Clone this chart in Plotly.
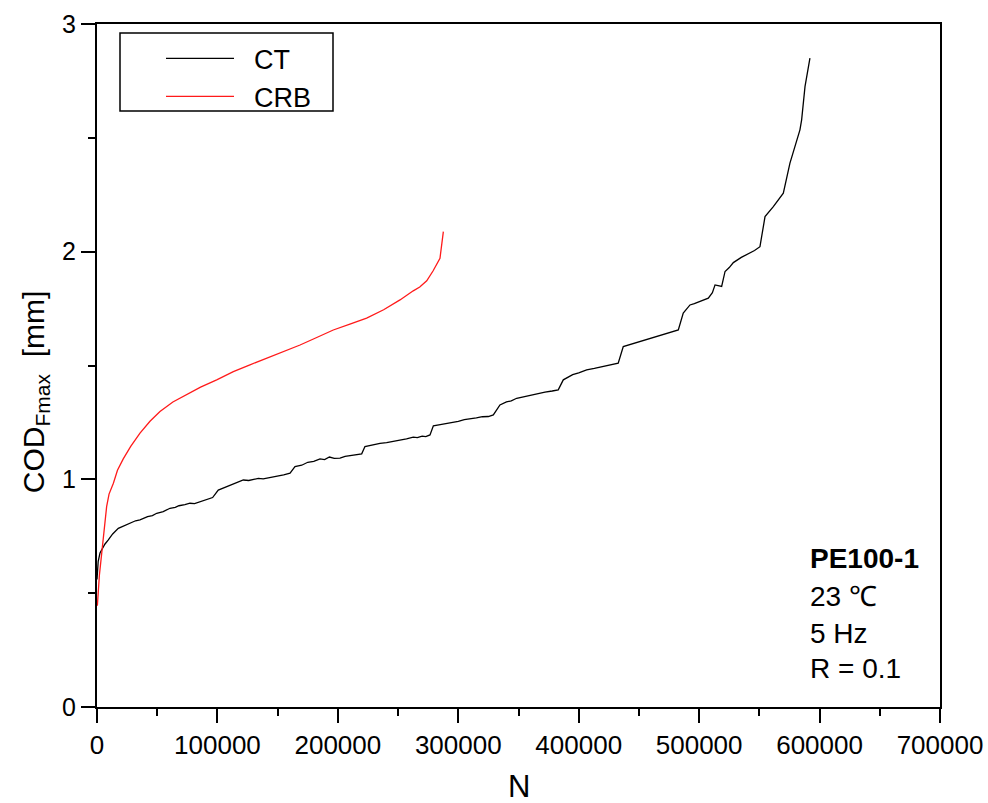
import plotly.graph_objects as go

# CT specimen: cycles N and COD at Fmax [mm]
ct_n = [0, 1000, 2500, 3900, 6500, 9400, 13000, 17700, 21800, 25000, 28000, 32000, 35700,
        42000, 46000, 49600, 55000, 58000, 60600, 65000, 68000, 73000, 77200, 81000,
        85000, 88000, 91000, 96000, 100700, 105000, 110000, 115000, 121500, 126000,
        130000, 134000, 138000, 144000, 150000, 155000, 160300, 164400, 170000,
        175000, 180000, 185200, 189000, 193000, 197000, 201800, 206000, 210000,
        215000, 219800, 222500, 226000, 230000, 235000, 240500, 246000, 252000,
        257000, 262600, 266000, 270000, 273000, 276500, 279300, 285000, 290000,
        295000, 300000, 305000, 310000, 315000, 320000, 325000, 329100, 334600,
        340000, 344000, 348500, 354000, 360000, 366000, 372000, 378000, 383000,
        387200, 391000, 395000, 400000, 406600, 413000, 420000, 426000, 432800,
        437000, 442000, 448000, 453000, 459200, 465000, 470000, 476000, 482700,
        486800, 492400, 496000, 500000, 504000, 507600, 511000, 513200, 518700,
        521500, 525000, 528400, 535000, 542200, 546000, 550500, 552500, 554700,
        561600, 569900, 575400, 580000, 583700, 585100, 587900, 592000]
ct_cod = [0.56, 0.64, 0.677, 0.69, 0.715, 0.734, 0.76, 0.785, 0.795, 0.80, 0.808, 0.818, 0.822,
          0.836, 0.841, 0.851, 0.858, 0.866, 0.873, 0.877, 0.884, 0.889, 0.895, 0.893,
          0.90, 0.905, 0.909, 0.92, 0.953, 0.962, 0.975, 0.982, 0.997, 0.995,
          1.0, 1.004, 1.002, 1.008, 1.012, 1.02, 1.027, 1.056, 1.062,
          1.075, 1.079, 1.09, 1.087, 1.098, 1.092, 1.093, 1.101, 1.105,
          1.108, 1.112, 1.144, 1.148, 1.152, 1.158, 1.161, 1.166, 1.172,
          1.178, 1.185, 1.183, 1.19, 1.188, 1.195, 1.235, 1.24, 1.245,
          1.247, 1.255, 1.262, 1.265, 1.27, 1.275, 1.276, 1.283, 1.327,
          1.34, 1.345, 1.356, 1.363, 1.37, 1.376, 1.383, 1.388, 1.393,
          1.437, 1.45, 1.46, 1.468, 1.481, 1.487, 1.495, 1.503, 1.51,
          1.583, 1.591, 1.60, 1.608, 1.62, 1.627, 1.638, 1.645, 1.656,
          1.73, 1.766, 1.772, 1.78, 1.79, 1.796, 1.82, 1.854, 1.847,
          1.913, 1.93, 1.952, 1.975, 1.993, 2.005, 2.022, 2.08, 2.154,
          2.198, 2.257, 2.389, 2.47, 2.535, 2.579, 2.725, 2.85]

# CRB specimen
crb_n = [300, 1000, 2000, 3900, 6600, 8000, 10000, 13600, 17000, 21800, 28000, 35700,
         44000, 52300, 63000, 74500, 86000, 99400, 113200, 127000, 140900, 155000,
         168600, 182000, 196200, 210000, 223900, 238000, 251600, 262600, 268000,
         273800, 279000, 284800, 286000, 287600]
crb_cod = [0.445, 0.50, 0.58, 0.675, 0.82, 0.88, 0.935, 0.983, 1.04, 1.09, 1.145, 1.203,
           1.255, 1.298, 1.34, 1.371, 1.405, 1.437, 1.473, 1.503, 1.532, 1.562,
           1.59, 1.622, 1.656, 1.682, 1.708, 1.745, 1.788, 1.828, 1.845,
           1.872, 1.915, 1.971, 2.02, 2.088]

x_ticks = [0, 100000, 200000, 300000, 400000, 500000, 600000, 700000]
y_ticks = [0, 1, 2, 3]
info_lines = ["<b>PE100-1</b>", "23 \u2103", "5 Hz", "R = 0.1"]

FONT = "Liberation Sans, Arial, sans-serif"
PAD = "\u00a0\u00a0"

fig = go.Figure()
fig.add_trace(go.Scatter(x=ct_n, y=ct_cod, mode="lines", name=PAD + "CT",
                         line=dict(color="black", width=1.3)))
fig.add_trace(go.Scatter(x=crb_n, y=crb_cod, mode="lines", name=PAD + "CRB",
                         line=dict(color="#ff1a1a", width=1.3)))

axis_common = dict(showline=True, linecolor="black", linewidth=2, mirror=True,
                   ticks="outside", ticklen=14, tickwidth=2, tickcolor="black",
                   showgrid=False, zeroline=False, automargin=False)

fig.update_xaxes(range=[0, 700000], tickvals=x_ticks,
                 ticktext=[str(v) for v in x_ticks],
                 tickfont=dict(family=FONT, size=26, color="black"),
                 minor=dict(dtick=50000, ticks="outside", ticklen=7, tickwidth=2,
                            tickcolor="black", showgrid=False),
                 **axis_common)
fig.update_yaxes(range=[0, 3], tickvals=y_ticks,
                 tickfont=dict(family=FONT, size=25, color="black"),
                 minor=dict(dtick=0.5, ticks="outside", ticklen=7, tickwidth=2,
                            tickcolor="black", showgrid=False),
                 **axis_common)

# axis titles
fig.add_annotation(text="N", xref="paper", yref="paper",
                   x=0.5, y=(707 - 786) / 683, showarrow=False,
                   xanchor="center", yanchor="middle",
                   font=dict(family=FONT, size=31, color="black"))
fig.add_annotation(text="COD<sub>Fmax</sub>  [mm]", xref="paper", yref="paper",
                   x=-0.0735, y=0.461, textangle=-90, showarrow=False,
                   xanchor="center", yanchor="middle",
                   font=dict(family=FONT, size=30, color="black"))

info_y = [0.2181, 0.1611, 0.1083, 0.0557]
for txt, yy in zip(info_lines, info_y):
    fig.add_annotation(text=txt, xref="paper", yref="paper", x=0.8434, y=yy,
                       xanchor="left", yanchor="middle", showarrow=False,
                       font=dict(family=FONT, size=28, color="black"))

# legend frame
fig.add_shape(type="rect", xref="paper", yref="paper",
              x0=(120 - 97) / 843, x1=(333 - 97) / 843,
              y0=(707 - 111) / 683, y1=(707 - 33) / 683,
              line=dict(color="black", width=1.5), fillcolor="rgba(0,0,0,0)",
              layer="above")

fig.update_layout(
    width=988, height=803,
    margin=dict(l=97, r=48, t=24, b=96, autoexpand=False),
    plot_bgcolor="white", paper_bgcolor="white",
    legend=dict(x=(161 - 97) / 843, y=0.985, xanchor="left", yanchor="top",
                borderwidth=0, bgcolor="rgba(0,0,0,0)",
                font=dict(family=FONT, size=27, color="black"),
                itemwidth=68, tracegroupgap=0),
)

fig.write_html("out.html")
